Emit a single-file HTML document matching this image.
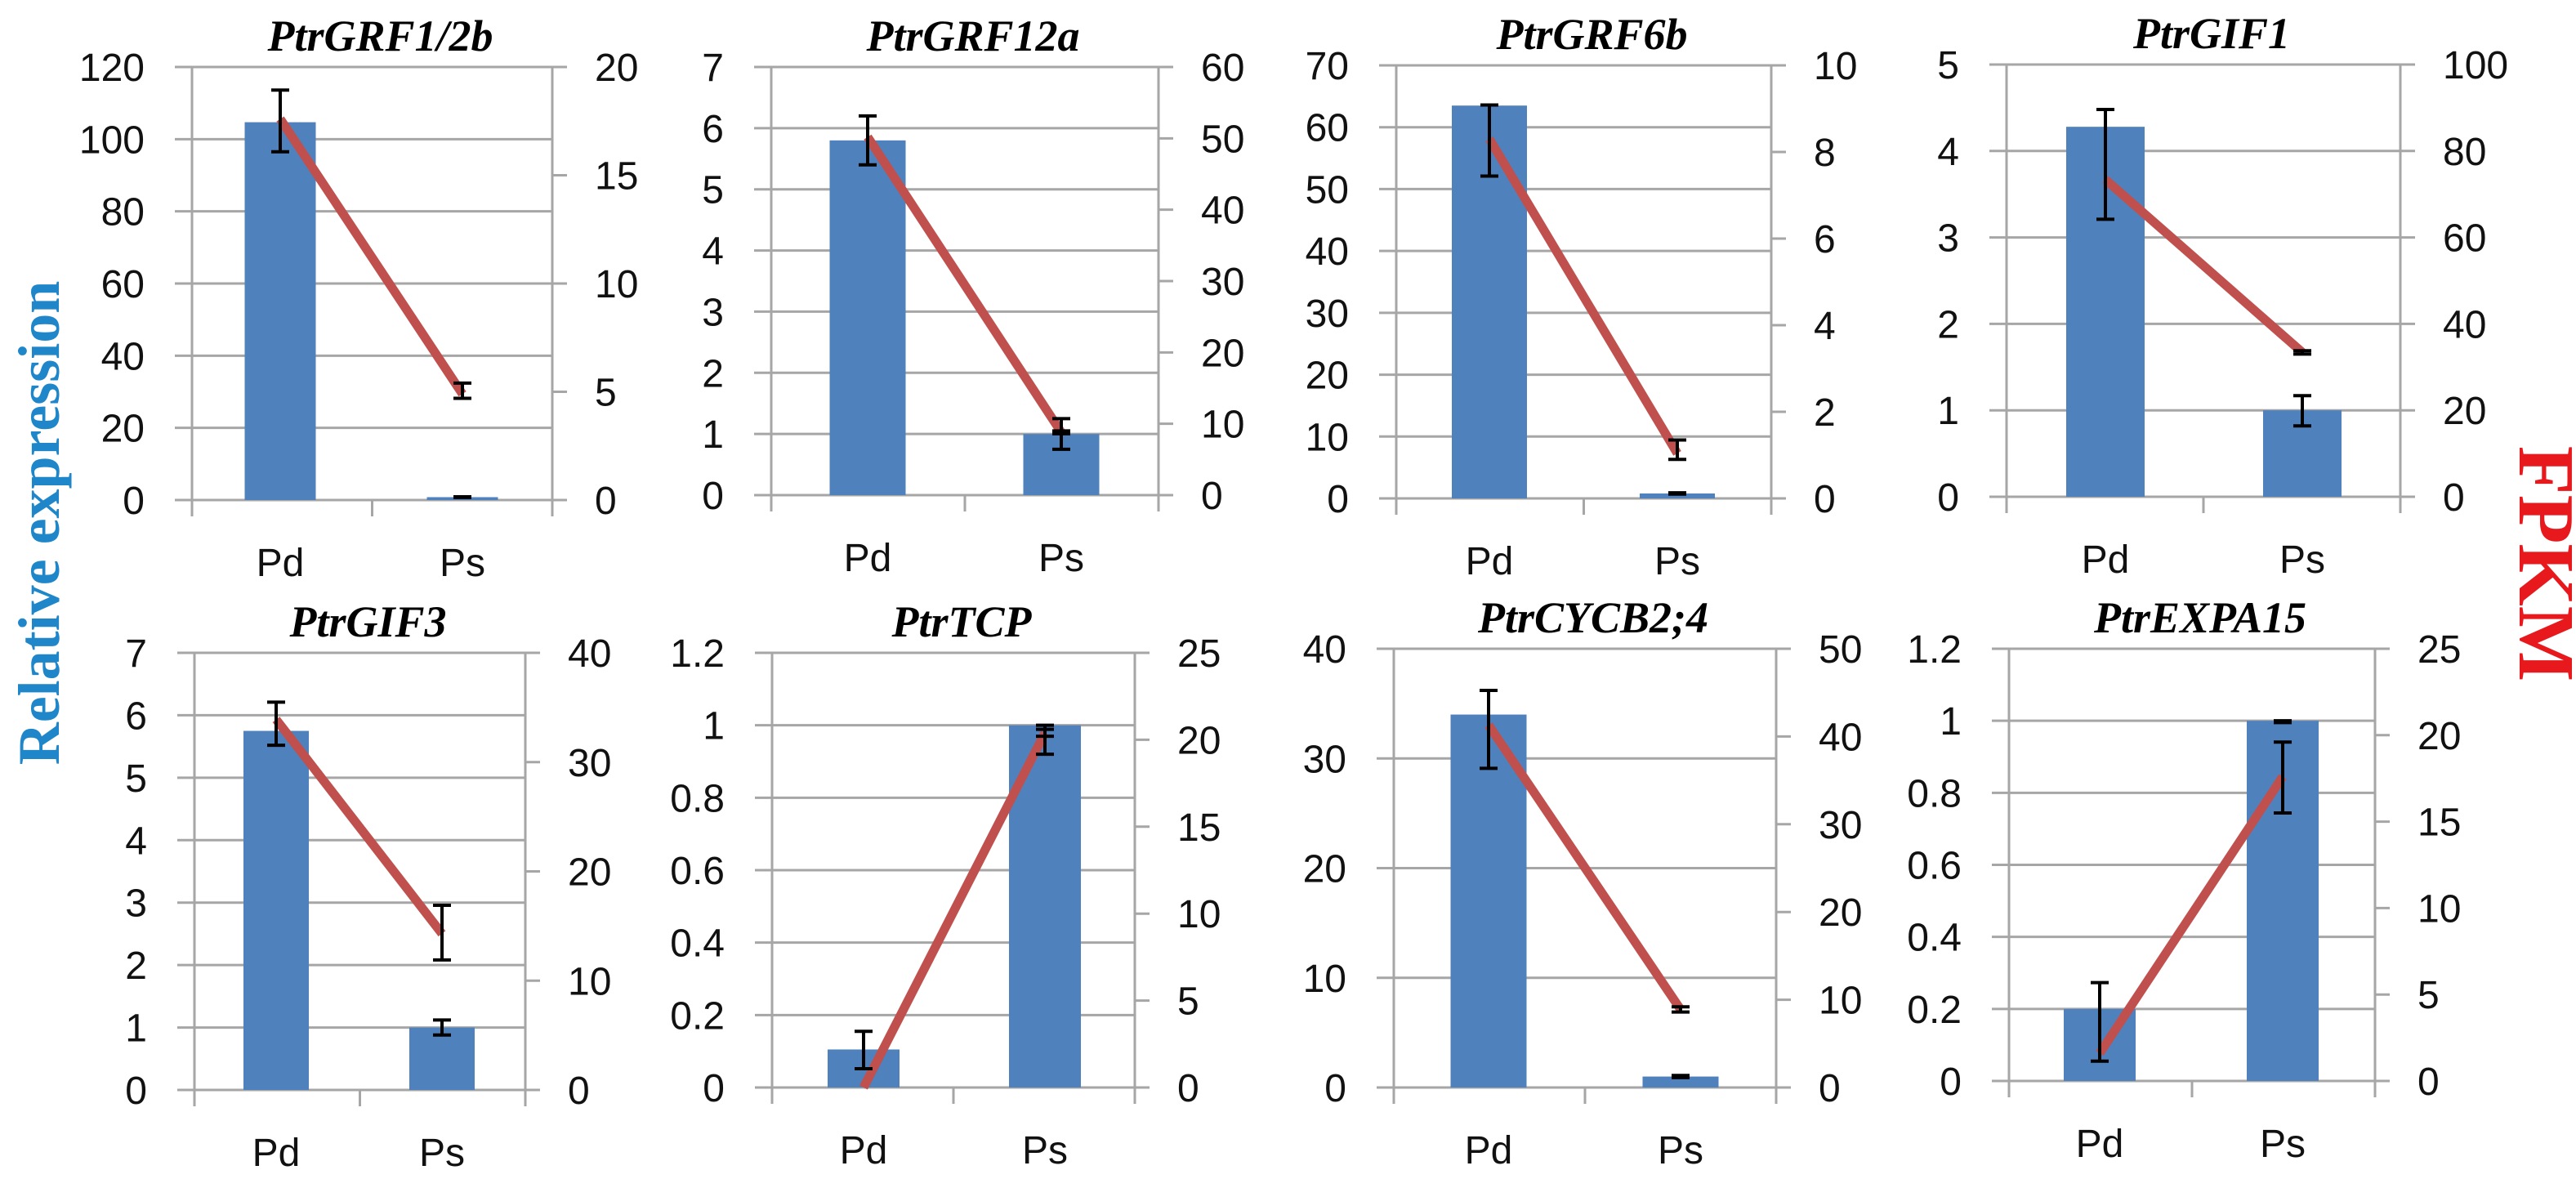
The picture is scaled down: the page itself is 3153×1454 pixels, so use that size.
<!DOCTYPE html>
<html><head><meta charset="utf-8"><style>
html,body{margin:0;padding:0;background:#fff}
svg{display:block}
</style></head><body>
<svg id="chart" width="3153" height="1454" viewBox="0 0 3153 1454" xmlns="http://www.w3.org/2000/svg">
<text transform="translate(72,640) rotate(-90)" text-anchor="middle" font-family="Liberation Serif, serif" font-weight="bold" font-size="72" fill="#1f87c9">Relative expression</text>
<text transform="translate(3084,690) rotate(90)" text-anchor="middle" font-family="Liberation Serif, serif" font-weight="bold" font-size="98" fill="#e8191c">FPKM</text>
</svg>
<script>
const titles = ["PtrGRF1/2b","PtrGRF12a","PtrGRF6b","PtrGIF1","PtrGIF3","PtrTCP","PtrCYCB2;4","PtrEXPA15"];
const categories = ["Pd","Ps"];
const leftMax = [120,7,70,5,7,1.2,40,1.2];
const leftStep = [20,1,10,1,1,0.2,10,0.2];
const rightMax = [20,60,10,100,40,25,50,25];
const rightStep = [5,10,2,20,10,5,10,5];
const barPd = [104.7,5.8,63.5,4.28,5.75,0.105,34,0.2];
const barPs = [0.8,1.0,0.8,1.0,1.0,1.0,1.0,1.0];
const barErrLoPd = [96.5,5.4,52.1,3.21,5.52,0.052,29.1,0.055];
const barErrHiPd = [113.6,6.2,63.6,4.48,6.21,0.155,36.2,0.273];
const barErrLoPs = [0.7,0.75,0.7,0.82,0.88,0.92,0.9,0.995];
const barErrHiPs = [0.9,1.25,0.9,1.17,1.12,1.0,1.1,1.0];
const linePd = [17.6,50.2,8.3,73.4,33.9,0,41.3,1.6];
const linePs = [4.9,8.8,1.04,33.4,14.3,20.4,8.9,17.6];
const lineErrLoPs = [4.7,8.6,0.9,33.0,11.9,20.2,8.6,15.5];
const lineErrHiPs = [5.4,9.0,1.35,33.8,16.9,20.6,9.2,19.6];

// layout (pixel geometry, not data)
const layout = [
 {l:235,r:676,t:82,b:612,pd:343,ps:566,bw:87},
 {l:944,r:1418,t:82,b:606,pd:1062,ps:1299,bw:93},
 {l:1709,r:2168,t:80,b:610,pd:1823,ps:2053,bw:92},
 {l:2456,r:2938,t:79,b:608,pd:2577,ps:2818,bw:96},
 {l:238,r:643,t:799,b:1334,pd:338,ps:541,bw:80},
 {l:945,r:1389,t:799,b:1331,pd:1057,ps:1279,bw:88},
 {l:1706,r:2174,t:794,b:1331,pd:1822,ps:2057,bw:93},
 {l:2459,r:2907,t:794,b:1323,pd:2570,ps:2794,bw:88}
];
const NS="http://www.w3.org/2000/svg";
const svg=document.getElementById('chart');
function mk(tag,attrs,parent){const e=document.createElementNS(NS,tag);for(const k in attrs)e.setAttribute(k,attrs[k]);(parent||svg).appendChild(e);return e;}
function fmt(v){return String(Math.round(v*10)/10);}
for(let i=0;i<titles.length;i++){
  const L=layout[i];
  const g=mk('g',{});
  
  
  const yL=v=>L.b-(v/leftMax[i])*(L.b-L.t);
  const yR=v=>L.b-(v/rightMax[i])*(L.b-L.t);
  const nL=Math.round(leftMax[i]/leftStep[i]);
  for(let k=0;k<=nL;k++){
    const v=k*leftStep[i],y=yL(v);
    const gl=mk('line',{x1:L.l-21,x2:L.r,y1:y,y2:y,stroke:'#a6a6a6','stroke-width':3},g);
    
    
    const t=mk('text',{x:L.l-58,y:y+17,'text-anchor':'end','font-family':'Liberation Sans, sans-serif','font-size':48,fill:'#111'},g);
    
    
    t.textContent=fmt(v);
  }
  const nR=Math.round(rightMax[i]/rightStep[i]);
  for(let k=0;k<=nR;k++){
    const v=k*rightStep[i],y=yR(v);
    const tk=mk('line',{x1:L.r,x2:L.r+18,y1:y,y2:y,stroke:'#a6a6a6','stroke-width':3},g);
    
    
    const t=mk('text',{x:L.r+52,y:y+17,'text-anchor':'start','font-family':'Liberation Sans, sans-serif','font-size':48,fill:'#111'},g);
    
    
    t.textContent=fmt(v);
  }
  const mid=(L.l+L.r)/2;
  [L.l,mid,L.r].forEach((x,j)=>{
    const a=mk('line',{x1:x,x2:x,y1:j==1?L.b:L.t,y2:L.b+20,stroke:'#a6a6a6','stroke-width':3},g);
    
    
  });
  const bars=[barPd[i],barPs[i]], lo=[barErrLoPd[i],barErrLoPs[i]], hi=[barErrHiPd[i],barErrHiPs[i]], cx=[L.pd,L.ps];
  for(let c=0;c<2;c++){
    const y=yL(bars[c]);
    const b=mk('rect',{x:cx[c]-L.bw/2,y:y,width:L.bw,height:L.b-y,fill:'#4f81bd'},g);
    
    
  }
  const ln=mk('line',{x1:L.pd,y1:yR(linePd[i]),x2:L.ps,y2:yR(linePs[i]),stroke:'#c0504d','stroke-width':11,'stroke-linecap':'butt'},g);
  
  
  function err(x,y1,y2,name){
    const e=mk('g',{stroke:'#000','stroke-width':4},g);
    
    
    mk('line',{x1:x,x2:x,y1:y1,y2:y2},e);
    mk('line',{x1:x-11,x2:x+11,y1:y1,y2:y1},e);
    mk('line',{x1:x-11,x2:x+11,y1:y2,y2:y2},e);
  }
  for(let c=0;c<2;c++) err(cx[c],yL(hi[c]),yL(lo[c]),'bar-error-'+categories[c].toLowerCase());
  err(L.ps,yR(lineErrHiPs[i]),yR(lineErrLoPs[i]),'line-error-ps');
  for(let c=0;c<2;c++){
    const t=mk('text',{x:cx[c],y:L.b+93,'text-anchor':'middle','font-family':'Liberation Sans, sans-serif','font-size':48,fill:'#111'},g);
    
    
    t.textContent=categories[c];
  }
  const tt=mk('text',{x:mid+10,y:L.t-20,'text-anchor':'middle','font-family':'Liberation Serif, serif','font-size':54,'font-weight':'bold','font-style':'italic',fill:'#000'},g);
  
  
  tt.textContent=titles[i];
}
</script>
</body></html>
